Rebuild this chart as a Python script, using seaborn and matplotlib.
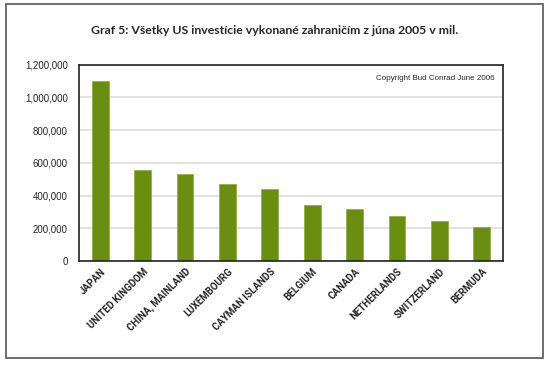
import matplotlib
matplotlib.use('Agg')
import seaborn as sns
import pandas as pd
from matplotlib import pyplot as plt
from matplotlib.patches import Rectangle
from matplotlib.ticker import FuncFormatter

countries = ['JAPAN', 'UNITED KINGDOM', 'CHINA, MAINLAND', 'LUXEMBOURG', 'CAYMAN ISLANDS',
             'BELGIUM', 'CANADA', 'NETHERLANDS', 'SWITZERLAND', 'BERMUDA']
values = [1097000, 557000, 533000, 473000, 442000, 339000, 315000, 273000, 242000, 206000]
title = 'Graf 5: Všetky US investície vykonané zahraničím z júna 2005 v mil.'
note = 'Copyright Bud Conrad June 2006'

sns.set_style('white')
plt.rcParams['font.family'] = ['Liberation Sans', 'DejaVu Sans']

df = pd.DataFrame({'country': countries, 'value': values})

fig = plt.figure(figsize=(5.5, 3.65), dpi=100)
# ramik okolo celeho grafu
fig.patches.append(Rectangle((6/550, 1 - 358/365), 537/550, 354/365, transform=fig.transFigure,
                             fill=False, edgecolor='#555555', lw=1.2))
ax = fig.add_axes([79/550, 1 - 261/365, 424/550, 196.5/365])

sns.barplot(data=df, x='country', y='value', color='#6b8e12', width=0.4,
            saturation=1, ax=ax, edgecolor='#8aab3a', linewidth=0.5)

ax.set_ylim(0, 1200000)
ax.set_yticks(range(0, 1200001, 200000))
ax.yaxis.set_major_formatter(FuncFormatter(lambda v, p: '{:,.0f}'.format(v)))
ax.yaxis.grid(True, color='#dddddd', lw=1.2)
ax.set_axisbelow(True)
ax.tick_params(axis='y', labelsize=7, length=0, pad=8)
ax.tick_params(axis='x', length=0, pad=4)
ax.set_xticks(range(len(countries)))
ax.set_xticklabels(countries, rotation=45, ha='right', rotation_mode='anchor',
                   fontsize=7, fontweight='bold', family=['Roboto', 'DejaVu Sans'])
ax.set_xlabel('')
ax.set_ylabel('')
for s in ax.spines.values():
    s.set_color('#222222')
    s.set_linewidth(1.2)

ax.text(0.98, 0.93, note, transform=ax.transAxes, ha='right', va='center', fontsize=5.8)
fig.text(275/550, 1 - 30/365, title, ha='center', va='center', fontsize=8.8, fontweight='bold',
         family=['Lato', 'DejaVu Sans'])

plt.savefig('out.png', dpi=100)
